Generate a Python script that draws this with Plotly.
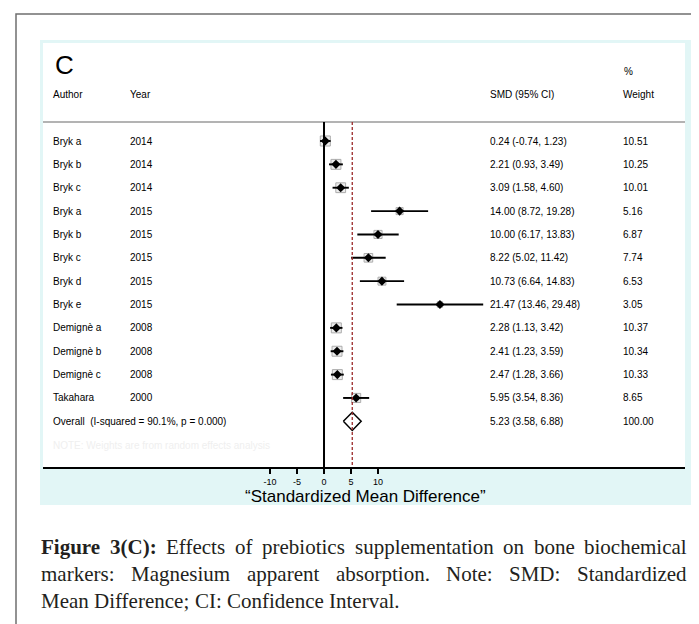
import plotly.graph_objects as go

# ---------------- data ----------------
authors = ["Bryk a", "Bryk b", "Bryk c", "Bryk a", "Bryk b", "Bryk c", "Bryk d", "Bryk e",
           "Demignè a", "Demignè b", "Demignè c", "Takahara"]
years = ["2014", "2014", "2014", "2015", "2015", "2015", "2015", "2015",
         "2008", "2008", "2008", "2000"]
smd = [0.24, 2.21, 3.09, 14.00, 10.00, 8.22, 10.73, 21.47, 2.28, 2.41, 2.47, 5.95]
ci_low = [-0.74, 0.93, 1.58, 8.72, 6.17, 5.02, 6.64, 13.46, 1.13, 1.23, 1.28, 3.54]
ci_high = [1.23, 3.49, 4.60, 19.28, 13.83, 11.42, 14.83, 29.48, 3.42, 3.59, 3.66, 8.36]
weights = [10.51, 10.25, 10.01, 5.16, 6.87, 7.74, 6.53, 3.05, 10.37, 10.34, 10.33, 8.65]

overall_label = "Overall&nbsp;&nbsp;(I-squared = 90.1%, p = 0.000)"
overall_smd = 5.23
overall_low = 3.58
overall_high = 6.88
overall_weight = 100.00

tick_vals = [-10, -5, 0, 5, 10]
tick_text = ["-10", "-5", "0", "5", "10"]

caption_lines = [
    [("Figure", True), ("3(C):", True), ("Effects", False), ("of", False), ("prebiotics", False),
     ("supplementation", False), ("on", False), ("bone", False), ("biochemical", False)],
    [("markers:", False), ("Magnesium", False), ("apparent", False), ("absorption.", False),
     ("Note:", False), ("SMD:", False), ("Standardized", False)],
    [("Mean", False), ("Difference;", False), ("CI:", False), ("Confidence", False),
     ("Interval.", False)],
]

# ---------------- geometry helpers ----------------
W, H = 699, 624
def px(x):
    return x / W
def py(y):
    return 1 - y / H

rows = list(range(len(authors)))
overall_row = len(authors)
row_px0, row_step = 133.0, 23.36
def row_of(ypix):
    return (ypix - row_px0) / row_step

SANS = "Arial, 'Liberation Sans', Helvetica, sans-serif"
SERIF = "'Liberation Serif', 'Times New Roman', serif"
TS = 10  # table font size

# Times (Liberation Serif) advance widths, for justifying the caption
_TR = dict(zip("abcdefghijklmnopqrstuvwxyz",
               [444, 500, 444, 500, 444, 333, 500, 500, 278, 278, 500, 278, 778, 500, 500, 500,
                500, 333, 389, 278, 500, 500, 722, 500, 500, 444]))
_TR.update(dict(zip("ABCDEFGHIJKLMNOPQRSTUVWXYZ",
                    [722, 667, 667, 722, 611, 556, 722, 722, 333, 389, 722, 611, 889, 722, 722,
                     556, 722, 667, 556, 611, 722, 722, 944, 722, 722, 611])))
_TR.update({".": 250, ",": 250, ":": 278, ";": 278, "(": 333, ")": 333, "-": 333, " ": 250})
_TR.update({d: 500 for d in "0123456789"})
_TB = dict(_TR)
_TB.update({"F": 611, "C": 722, "i": 278, "g": 500, "u": 556, "r": 444, "e": 444, ":": 333})

def word_w(word, bold, size):
    tab = _TB if bold else _TR
    return sum(tab.get(c, 500) for c in word) / 1000 * size

fig = go.Figure()

# weight boxes
fig.add_trace(go.Scatter(
    x=smd, y=rows, mode="markers",
    marker=dict(symbol="square", size=[3.1 * w ** 0.5 for w in weights],
                color="#e4e4e4", line=dict(color="#8a8a8a", width=1)),
    hoverinfo="skip"))

# CI lines
cx, cy = [], []
for r, lo, hi in zip(rows, ci_low, ci_high):
    cx += [lo, hi, None]
    cy += [r, r, None]
fig.add_trace(go.Scatter(x=cx, y=cy, mode="lines",
                         line=dict(color="black", width=1.9), hoverinfo="skip"))

# point estimates
fig.add_trace(go.Scatter(
    x=smd, y=rows, mode="markers",
    marker=dict(symbol="diamond", size=7, color="black"),
    hoverinfo="skip"))

# overall diamond
dh = 0.39
fig.add_trace(go.Scatter(
    x=[overall_low, overall_smd, overall_high, overall_smd, overall_low],
    y=[overall_row, overall_row - dh, overall_row, overall_row + dh, overall_row],
    mode="lines", fill="toself", fillcolor="white",
    line=dict(color="black", width=1.5), hoverinfo="skip"))

header_row = row_of(114)
bottom_row = row_of(459)
top_row = row_of(35)

shapes = [
    dict(type="rect", xref="paper", yref="paper", x0=px(8), x1=1.05, y0=-0.05, y1=py(6),
         line=dict(color="#6f6f6f", width=1.5), fillcolor="rgba(0,0,0,0)", layer="below"),
    dict(type="rect", xref="paper", yref="paper", x0=px(32), x1=px(683), y0=py(497), y1=py(32),
         line=dict(width=0), fillcolor="#e2f6f6", layer="below"),
    dict(type="rect", xref="paper", yref="paper", x0=px(35), x1=px(677), y0=py(459), y1=py(35),
         line=dict(width=0), fillcolor="white", layer="below"),
    dict(type="line", xref="paper", yref="y", x0=px(35), x1=px(677), y0=header_row, y1=header_row,
         line=dict(color="#9a9a9a", width=1.5)),
    dict(type="line", xref="x", yref="y", x0=0, x1=0, y0=header_row, y1=bottom_row,
         line=dict(color="black", width=2)),
    dict(type="line", xref="x", yref="y", x0=overall_smd, x1=overall_smd, y0=header_row, y1=bottom_row,
         line=dict(color="#9b2a2a", width=1.3, dash="3px,2px")),
]

ann = []
def text(x, y, s, size=TS, yref="y", xanchor="left", family=SANS, color="black"):
    ann.append(dict(x=x, y=y, xref="paper", yref=yref, text=s, showarrow=False,
                    xanchor=xanchor, yanchor="middle", borderpad=0,
                    font=dict(size=size, family=family, color=color)))

# headers
text(px(46), row_of(57), "C", size=26)
text(px(44), row_of(86), "Author")
text(px(121), row_of(86), "Year")
text(px(481), row_of(86), "SMD (95% CI)")
text(px(615), row_of(63), "%")
text(px(614), row_of(86), "Weight")

for r, a, yv, s, lo, hi, w in zip(rows, authors, years, smd, ci_low, ci_high, weights):
    text(px(44), r, a)
    text(px(121), r, yv)
    text(px(481), r, f"{s:.2f} ({lo:.2f}, {hi:.2f})")
    text(px(614), r, f"{w:.2f}")

text(px(44), overall_row, overall_label)
text(px(481), overall_row, f"{overall_smd:.2f} ({overall_low:.2f}, {overall_high:.2f})")
text(px(614), overall_row, f"{overall_weight:.2f}")
text(px(44), row_of(437), "NOTE: Weights are from random effects analysis", color="#efefef")

# axis title
ann.append(dict(x=px(357), y=py(488), xref="paper", yref="paper",
                text="\u201cStandardized Mean Difference\u201d", showarrow=False,
                xanchor="center", yanchor="middle",
                font=dict(size=17, family=SANS, color="black")))

# caption (justified, last line ragged)
CAP_SIZE = 21
cap_left, cap_right = 32, 678
for i, words in enumerate(caption_lines):
    widths = [word_w(wd, b, CAP_SIZE) for wd, b in words]
    if i < len(caption_lines) - 1:
        gap = (cap_right - cap_left - sum(widths)) / (len(words) - 1)
    else:
        gap = 0.25 * CAP_SIZE
    xx = cap_left
    for (wd, b), ww in zip(words, widths):
        t = f"<b>{wd}</b>" if b else wd
        text(px(xx), py(539 + 27 * i), t, size=CAP_SIZE, yref="paper", family=SERIF, color="#231f20")
        xx += ww + gap

fig.update_layout(
    width=W, height=H, margin=dict(l=0, r=0, t=0, b=0),
    paper_bgcolor="white", plot_bgcolor="rgba(0,0,0,0)", showlegend=False,
    xaxis=dict(domain=[px(35), px(677)], range=[-52.04, 66.85],
               tickvals=tick_vals, ticktext=tick_text, ticks="outside", ticklen=5,
               tickwidth=1.5, tickcolor="black", showline=True, linecolor="black",
               linewidth=2, showgrid=False, zeroline=False,
               tickfont=dict(size=9, family=SANS, color="black"), fixedrange=True),
    yaxis=dict(domain=[py(459), py(35)], range=[bottom_row, top_row], visible=False,
               fixedrange=True),
    shapes=shapes, annotations=ann,
)

fig.write_html("out.html")
